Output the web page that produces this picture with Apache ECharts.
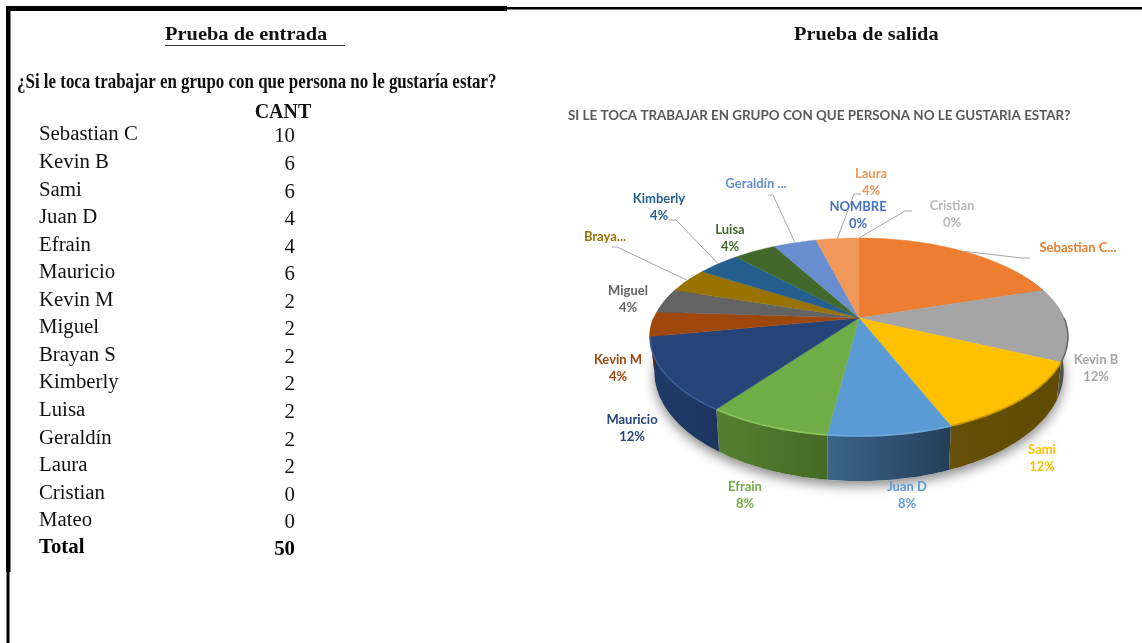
<!DOCTYPE html>
<html>
<head>
<meta charset="utf-8">
<title>Prueba de entrada y salida</title>
<style>
html, body { margin: 0; padding: 0; background: #fff; }
#grafico { width: 1142px; height: 643px; }
</style>
<script src="https://cdn.jsdelivr.net/npm/echarts@6/dist/echarts.min.js"></script>
</head>
<body>
<div id="grafico"></div>
<script>
// tabla de la prueba de entrada
var tablaNombres = ['Sebastian C', 'Kevin B', 'Sami', 'Juan D', 'Efrain', 'Mauricio', 'Kevin M', 'Miguel',
    'Brayan S', 'Kimberly', 'Luisa', 'Geraldín', 'Laura', 'Cristian', 'Mateo'];
var tablaCant = [10, 6, 6, 4, 4, 6, 2, 2, 2, 2, 2, 2, 2, 0, 0];
var tablaTotal = 50;

// torta de la prueba de salida
var etiquetas = ['Sebastian C...', 'Kevin B', 'Sami', 'Juan D', 'Efrain', 'Mauricio', 'Kevin M', 'Miguel',
    'Braya...', 'Kimberly', 'Luisa', 'Geraldín ...', 'Laura', 'Cristian', 'NOMBRE'];
var valores = [10, 6, 6, 4, 4, 6, 2, 2, 2, 2, 2, 2, 2, 0, 0];

var colores = ['#ED7D31', '#A5A5A5', '#FFC000', '#5B9BD5', '#70AD47', '#264478', '#9E480E', '#636363',
    '#997300', '#255E91', '#43682B', '#698ED0', '#F1975A', '#B7B7B7', '#4472C4'];
var paredIzq = ['#9a5220', '#8a8a8a', '#66500a', '#3c6488', '#56802f', '#1f3a68', '#5f2b08', '#3b3b3b',
    '#5c4500', '#163857', '#283e1a', '#3f557c', '#915b36', '#6e6e6e', '#294476'];
var paredDer = ['#9a5220', '#404040', '#5f4a00', '#243e58', '#456a25', '#1d355f', '#5f2b08', '#3b3b3b',
    '#5c4500', '#163857', '#283e1a', '#3f557c', '#915b36', '#6e6e6e', '#294476'];
var bordes = ['#ED7D31', '#6a6a6a', '#c99800', '#6ea9dc', '#8cc65c', '#3a5f9c', '#9E480E', '#636363',
    '#997300', '#255E91', '#43682B', '#698ED0', '#F1975A', '#B7B7B7', '#4472C4'];

// posicion de los textos de la torta: centro x, y de la primera linea
var posEtiquetas = [[1078, 248], [1096, 360], [1042, 450], [907, 487], [745, 487], [632, 420], [618, 360], [628, 291],
    [605, 237], [659, 199], [730, 230], [756, 184], [871, 174], [952, 206], [858, 207]];
// codos de las lineas guia, null si no tiene
var codos = [[[1022, 258], [1030, 258]], null, null, null, null, null, null, null,
    [[617, 247], [612, 247]], [[676, 220], [669, 220]], null, [[773, 195], [768, 195]], [[854, 194], [861, 194]],
    [[905, 211], [912, 211]], null];
var sinPorcentaje = [0, 8, 11];

var total = valores.reduce(function (a, b) { return a + b; }, 0);
var acumulado = [];
valores.reduce(function (s, v, i) { acumulado[i] = s; return s + v; }, 0);

// perspectiva de la torta
var CX = 859, CY = 318, R = 205, PY = 95.4, PC = -0.192;
function punto(grados) {
    var t = grados * Math.PI / 180;
    var u = Math.sin(t), v = -Math.cos(t);
    var d = 1 + PC * v;
    return [CX + R * u / d, CY + PY * v / d];
}
function puntoAbajo(grados) {
    var p = punto(grados);
    var v = -Math.cos(grados * Math.PI / 180);
    return [CX + (p[0] - CX) * 0.98, p[1] + 32 + 13 * v];
}
function arco(a, b, fn) {
    var pts = [];
    for (var g = a; g < b; g += 1) pts.push(fn(g));
    pts.push(fn(b));
    return pts;
}
function angulos(i) {
    return [acumulado[i] / total * 360, (acumulado[i] + valores[i]) / total * 360];
}

function dibujaSombra(params) {
    var pts = arco(60, 300, puntoAbajo);
    return {
        type: 'polygon',
        shape: { points: pts },
        style: { fill: '#fff', shadowBlur: 12, shadowOffsetY: 5, shadowColor: 'rgba(0,0,0,0.45)' }
    };
}

function dibujaPared(params, api) {
    var i = params.dataIndex;
    if (!api.value(0)) return null;
    var a = angulos(i);
    var ini = Math.max(a[0], 60), fin = Math.min(a[1], 300);
    if (ini >= fin) return null;
    var arriba = arco(ini, fin, punto);
    var abajo = arco(ini, fin, puntoAbajo).reverse();
    return {
        type: 'polygon',
        shape: { points: arriba.concat(abajo) },
        style: {
            fill: new echarts.graphic.LinearGradient(0, 0, 1, 0, [
                { offset: 0, color: paredIzq[i] },
                { offset: 1, color: paredDer[i] }
            ])
        }
    };
}

function dibujaCara(params, api) {
    var i = params.dataIndex;
    if (!api.value(0)) return null;
    var a = angulos(i);
    var hijos = [{
        type: 'polygon',
        shape: { points: [[CX, CY]].concat(arco(a[0], a[1], punto)) },
        style: { fill: colores[i], stroke: colores[i], lineWidth: 0.4 }
    }];
    var ini = Math.max(a[0], 90), fin = Math.min(a[1], 270);
    if (ini < fin) {
        hijos.push({
            type: 'polyline',
            shape: { points: arco(ini, fin, punto) },
            style: { fill: 'none', stroke: bordes[i], lineWidth: 1.6 }
        });
    }
    return { type: 'group', children: hijos };
}

function dibujaEtiqueta(params, api) {
    var i = params.dataIndex;
    var a = angulos(i);
    var hijos = [];
    var pos = posEtiquetas[i];
    var fuente = 'bold 13px Lato, "Open Sans", sans-serif';
    if (codos[i]) {
        hijos.push({
            type: 'polyline',
            shape: { points: [punto((a[0] + a[1]) / 2)].concat(codos[i]) },
            style: { fill: 'none', stroke: '#A6A6A6', lineWidth: 1 }
        });
    }
    hijos.push({
        type: 'text',
        style: { text: etiquetas[i], x: pos[0], y: pos[1], fill: colores[i], font: fuente, align: 'center', verticalAlign: 'middle' }
    });
    if (sinPorcentaje.indexOf(i) < 0) {
        hijos.push({
            type: 'text',
            style: { text: Math.round(api.value(0) / total * 100) + '%', x: pos[0], y: pos[1] + 17, fill: colores[i], font: fuente, align: 'center', verticalAlign: 'middle' }
        });
    }
    return { type: 'group', children: hijos };
}

// textos y marco de la parte izquierda
var serif = '"Liberation Serif", "Times New Roman", serif';
function texto(t, x, y, font, fill, align, sx) {
    return {
        type: 'text', x: x, y: y, scaleX: sx || 1, silent: true,
        style: { text: t, x: 0, y: 0, font: font, fill: fill || '#111', align: align || 'left', verticalAlign: 'middle' }
    };
}
function barra(x, y, w, h, c) {
    return { type: 'rect', silent: true, shape: { x: x, y: y, width: w, height: h }, style: { fill: c || '#000' } };
}

var elementos = [
    barra(6, 6, 501, 5),
    barra(507, 7, 635, 2.5),
    barra(6, 6, 4.5, 566),
    barra(6.5, 572, 3, 71),
    texto('Prueba de entrada', 165, 35, 'bold 19px ' + serif, '#111', 'left', 1.075),
    barra(165, 45, 180, 1, '#333'),
    texto('Prueba de salida', 794, 35, 'bold 19px ' + serif, '#111', 'left', 1.07),
    texto('¿Si le toca trabajar en grupo con que persona no le gustaría estar?', 17, 83, 'bold 21px ' + serif, '#111', 'left', 0.806),
    texto('CANT', 283, 113, 'bold 20px ' + serif, '#111', 'center'),
    texto('Total', 39, 548, 'bold 20.8px ' + serif, '#000'),
    texto(String(tablaTotal), 295, 550, 'bold 20.8px ' + serif, '#000', 'right')
];
tablaNombres.forEach(function (n, i) {
    elementos.push(texto(n, 39, 135 + i * 27.55, '20.8px ' + serif, '#111'));
    elementos.push(texto(String(tablaCant[i]), 295, 137 + i * 27.55, '20.8px ' + serif, '#111', 'right'));
});

var miGrafico = echarts.init(document.getElementById('grafico'));
var option = {
    animation: false,
    backgroundColor: '#fff',
    title: {
        text: 'SI LE TOCA TRABAJAR EN GRUPO CON QUE PERSONA NO LE GUSTARIA ESTAR?',
        left: 568,
        top: 109,
        textStyle: { color: '#595959', fontFamily: 'Lato, "Open Sans", sans-serif', fontWeight: 'bold', fontSize: 13.4 },
        padding: 0
    },
    graphic: { elements: elementos },
    series: [
        { type: 'custom', coordinateSystem: 'none', silent: true, renderItem: dibujaSombra, data: [total] },
        { type: 'custom', coordinateSystem: 'none', silent: true, renderItem: dibujaPared, data: valores },
        { type: 'custom', coordinateSystem: 'none', silent: true, renderItem: dibujaCara, data: valores },
        { type: 'custom', coordinateSystem: 'none', silent: true, renderItem: dibujaEtiqueta, data: valores }
    ]
};
miGrafico.setOption(option);
window.addEventListener('resize', function () {
    miGrafico.resize();
});
</script>
</body>
</html>
